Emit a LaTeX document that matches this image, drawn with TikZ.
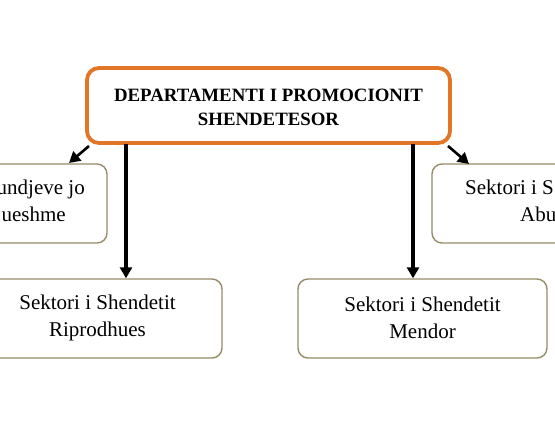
\documentclass[tikz,border=0pt]{standalone}
\usepackage{fontspec}
\setmainfont{Liberation Serif}
\usetikzlibrary{arrows.meta}
\definecolor{deptorange}{RGB}{226,118,38}
\definecolor{boxgray}{RGB}{150,140,104}
\tikzset{
  mainbox/.style={draw=deptorange, line width=3.8pt, rounded corners=12pt, fill=white},
  subbox/.style={draw=boxgray, line width=1.4pt, rounded corners=10pt, fill=white},
  btxt/.style={font=\fontsize{18.8}{24}\selectfont\bfseries, align=center, inner sep=0pt},
  rtxt/.style={font=\fontsize{21}{27}\selectfont, align=center, inner sep=0pt},
  conn/.style={line width=3.1pt, -{Triangle[width=12pt,length=11pt]}},
  dconn/.style={line width=2.6pt, -{Triangle[width=12pt,length=11pt]}},
}
\begin{document}
\begin{tikzpicture}[x=1pt,y=-1pt]
\useasboundingbox (0,0) rectangle (555,435);
\clip (0,0) rectangle (555,435);
\fill[white] (0,0) rectangle (555,435);
% main box
\draw[mainbox] (87,68) rectangle (450,143);
\coordinate (mainbl) at (126,144);
\coordinate (mainbr) at (413,144);
\node[btxt] (title) at (268.5,107) {DEPARTAMENTI I PROMOCIONIT\\SHENDETESOR};
% left upper box (cut off)
\draw[subbox] (-140,164) rectangle (107,243);
\node[rtxt, anchor=base east] (l1) at (85,195) {undjeve jo};
\node[rtxt, anchor=base east] (l2) at (66,222) {ueshme};
% right upper box (cut off)
\draw[subbox] (432,164) rectangle (680,243);
\node[rtxt, anchor=base west] (r1) at (465,195) {Sektori i S};
\node[rtxt, anchor=base west] (r2) at (520,222) {Abu};
% bottom boxes
\node[subbox, minimum width=249pt, minimum height=79pt, inner sep=0pt] (rip) at (97.5,318.5) {};
\node[rtxt] (riptxt) at (97.5,318) {Sektori i Shendetit\\Riprodhues};
\node[subbox, minimum width=249pt, minimum height=79pt, inner sep=0pt] (men) at (422.5,318.5) {};
\node[rtxt] (mentxt) at (422.5,318) {Sektori i Shendetit\\Mendor};
% connectors
\coordinate (la) at (89,146);
\coordinate (lb) at (69,163);
\coordinate (ra) at (448,146);
\coordinate (rb) at (469,164);
\draw[conn] (mainbl) -- (mainbl |- rip.north);
\draw[conn] (mainbr) -- (mainbr |- men.north);
\draw[dconn] (la) -- (lb);
\draw[dconn] (ra) -- (rb);
\end{tikzpicture}
\end{document}
